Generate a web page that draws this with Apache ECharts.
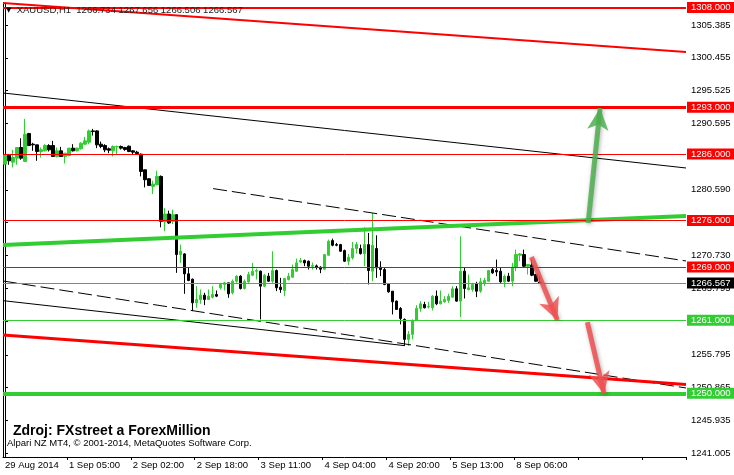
<!DOCTYPE html>
<html><head><meta charset="utf-8">
<script src="https://cdn.jsdelivr.net/npm/echarts@6.0.0/dist/echarts.min.js"></script>
<style>html,body{margin:0;padding:0;background:#fff}#c{width:734px;height:475px}</style>
</head><body><div id="c"></div>
<script>
// ---- candle data (XAUUSD H1) ----
const opens = [1284.46,1285.76,1284.76,1285.36,1286.96,1284.86,1289.06,1287.46,1287.36,1286.36,
1286.46,1287.26,1287.26,1285.61,1286.46,1285.61,1285.76,1286.86,1286.46,1286.76,
1287.46,1287.76,1289.46,1289.46,1287.46,1287.26,1286.76,1286.46,1287.06,1287.11,
1286.96,1287.16,1286.46,1286.26,1285.96,1283.61,1282.26,1281.11,1281.36,1282.61,
1275.76,1276.96,1275.86,1276.86,1270.86,1270.96,1267.96,1267.16,1263.61,1264.11,
1264.76,1264.11,1264.46,1264.86,1265.86,1266.36,1266.61,1265.11,1266.86,1267.61,
1265.76,1266.76,1267.76,1268.36,1268.36,1266.11,1267.61,1266.86,1268.46,1265.96,
1265.46,1267.11,1267.46,1268.36,1269.76,1269.96,1269.86,1269.11,1269.16,1268.96,
1268.66,1270.76,1272.96,1272.36,1272.36,1271.46,1269.86,1270.36,1271.76,1271.76,
1271.01,1272.36,1268.36,1271.76,1268.96,1268.61,1266.46,1265.36,1263.86,1262.76,
1261.11,1258.11,1258.86,1260.96,1262.76,1263.36,1262.96,1262.86,1264.61,1263.46,
1263.76,1263.96,1264.46,1265.71,1263.86,1268.36,1265.61,1265.61,1266.46,1265.36,
1266.61,1266.86,1268.61,1268.46,1268.36,1266.76,1267.61,1266.86,1268.96,1270.76,
1270.86,1269.11,1269.26,1267.86,1266.734];
const closes = [1285.76,1284.96,1285.46,1286.96,1285.36,1288.96,1287.26,1287.36,1286.36,1286.61,
1287.26,1286.61,1285.61,1286.46,1285.61,1286.11,1286.86,1286.46,1286.86,1287.61,
1287.96,1289.46,1289.36,1287.36,1287.11,1286.61,1286.56,1287.11,1287.11,1286.86,
1286.66,1286.36,1286.26,1286.06,1283.36,1282.11,1281.26,1281.46,1282.61,1275.86,
1276.96,1275.61,1276.86,1270.86,1271.36,1267.96,1266.96,1263.61,1264.11,1264.76,
1264.11,1264.61,1264.86,1264.61,1266.36,1266.61,1264.96,1266.86,1267.61,1265.76,
1266.86,1267.86,1268.36,1268.46,1266.11,1267.76,1266.86,1268.46,1265.86,1265.61,
1267.26,1267.61,1268.61,1269.61,1269.96,1269.61,1269.11,1269.21,1268.96,1268.66,
1270.86,1272.86,1272.26,1272.26,1271.36,1269.86,1270.46,1271.76,1272.36,1271.01,
1272.36,1268.46,1272.26,1268.86,1268.61,1266.36,1265.26,1263.76,1262.61,1261.26,
1258.11,1258.86,1260.96,1262.76,1263.46,1262.86,1263.06,1264.61,1263.46,1263.86,
1264.11,1264.56,1265.71,1263.86,1268.36,1265.76,1265.86,1266.36,1265.36,1266.76,
1266.96,1268.46,1268.11,1268.26,1266.76,1267.61,1266.86,1268.96,1270.86,1270.96,
1269.11,1269.36,1267.76,1266.86,1266.567];
const lows = [1284.36,1284.36,1283.96,1284.36,1285.11,1284.86,1287.16,1286.46,1284.96,1285.46,
1286.36,1286.36,1285.56,1285.46,1285.56,1284.56,1285.61,1286.36,1286.36,1286.66,
1287.36,1287.46,1288.76,1286.86,1286.86,1286.26,1286.11,1285.61,1285.96,1286.66,
1286.46,1286.26,1285.86,1285.86,1282.61,1280.96,1281.16,1279.96,1281.26,1274.96,
1274.36,1275.46,1275.46,1268.11,1269.61,1264.96,1266.86,1262.36,1262.86,1263.46,
1263.26,1264.11,1264.26,1264.46,1265.61,1265.46,1264.36,1264.86,1266.61,1265.61,
1265.61,1266.61,1267.61,1267.11,1261.11,1265.96,1266.76,1266.61,1265.36,1265.11,
1264.61,1266.96,1267.36,1268.26,1269.61,1269.11,1268.61,1268.61,1268.61,1268.06,
1268.56,1270.71,1272.11,1272.11,1271.26,1269.76,1269.26,1270.11,1271.01,1270.86,
1269.11,1266.36,1266.86,1267.36,1267.61,1266.26,1265.11,1261.86,1262.56,1260.36,
1257.26,1257.11,1258.11,1260.86,1262.26,1262.76,1262.76,1262.46,1263.26,1263.36,
1263.61,1263.61,1264.36,1263.76,1261.46,1264.26,1265.46,1265.26,1264.46,1265.11,
1266.11,1266.76,1267.96,1267.61,1266.61,1265.96,1266.76,1266.11,1268.36,1269.86,
1268.96,1267.86,1267.61,1266.76,1266.506];
const highs = [1285.86,1285.86,1286.61,1286.96,1288.36,1291.26,1289.16,1287.66,1287.36,1286.96,
1287.46,1287.46,1287.96,1286.96,1287.06,1286.11,1286.86,1287.46,1286.96,1287.76,
1288.56,1289.66,1289.76,1289.56,1287.86,1287.46,1286.96,1287.26,1287.26,1287.26,
1287.06,1287.26,1286.56,1286.46,1286.06,1283.61,1282.36,1281.96,1283.46,1282.76,
1277.86,1277.46,1277.61,1276.86,1272.36,1271.06,1268.96,1267.26,1266.11,1265.61,
1265.11,1265.61,1266.11,1265.46,1266.61,1266.76,1266.61,1267.11,1267.76,1267.76,
1267.11,1268.26,1269.61,1268.76,1268.46,1267.96,1268.11,1271.36,1268.61,1267.36,
1267.36,1268.11,1269.36,1270.26,1270.36,1270.11,1269.96,1269.66,1269.36,1269.11,
1270.96,1273.11,1273.26,1272.61,1272.46,1271.61,1270.96,1272.76,1272.76,1272.36,
1274.96,1274.11,1277.11,1273.76,1269.86,1268.86,1266.56,1265.36,1263.96,1262.96,
1261.26,1259.36,1261.11,1263.26,1263.86,1263.76,1263.76,1264.76,1265.46,1265.46,
1264.61,1264.96,1266.11,1266.11,1273.61,1268.96,1267.86,1266.61,1266.76,1267.36,
1267.36,1268.56,1268.96,1270.11,1268.86,1267.86,1268.11,1269.61,1271.61,1271.11,
1271.61,1269.36,1270.11,1267.96,1267.656];

// ---- axis texts ----
const slotCount = 171;           // bar slots visible on the chart (incl. right shift)
const tickEvery = 16;
const timeLabels = ['29 Aug 2014','1 Sep 05:00','2 Sep 02:00','2 Sep 18:00','3 Sep 11:00','4 Sep 04:00','4 Sep 20:00','5 Sep 13:00','8 Sep 06:00'];
const priceTicks = [1241.005,1245.935,1250.865,1255.795,1260.865,1265.795,1270.730,1275.660,1280.590,1285.660,1290.595,1295.525,1300.455,1305.385];
const priceMin = 1240.42, priceMax = 1308.69;

// ---- horizontal levels ----
const levelValues = [1308, 1293, 1286, 1276, 1269, 1266.567, 1261, 1250];
const levelColors = ['#ff0000','#ff0000','#ff0000','#ff0000','#ff0000','#778899','#32cd32','#32cd32'];
const levelBoxColors = ['#ff0000','#ff0000','#ff0000','#ff0000','#ff0000','#000000','#32cd32','#32cd32'];
const levelWidths = [2, 3, 1, 1, 1, 1, 1, 4];

// ---- trend lines [barIndex, price] ----
const trendRedTop   = [[-0.5, 1308.69], [170.5, 1301.33]];
const trendBlackTop = [[-0.5, 1295.16], [170.5, 1283.88]];
const trendDashUp   = [[52.1, 1280.78], [170.5, 1269.90]];
const trendDashLow  = [[-0.5, 1266.89], [170.5, 1250.80]];
const trendSolidLow = [[-0.5, 1263.93], [100.15, 1257.16]];
const trendRedLow   = [[-0.5, 1258.77], [170.5, 1251.33]];
const trendGreen    = [[-0.5, 1272.30], [170.5, 1276.66]];

// ---- arrows [barIndex, price] tail -> head ----
const arrowGreen = [[146, 1275.6], [149, 1292.9]];
const arrowRed1  = [[131.8, 1270.5], [138.3, 1261.0]];
const arrowRed2  = [[145.8, 1260.7], [150.0, 1249.9]];

const categories = [];
for (let i = 0; i < slotCount; i++) categories.push(i % tickEvery === 0 && timeLabels[i / tickEvery] ? timeLabels[i / tickEvery] : '');

const FONT = 'Liberation Sans';
const candleData = opens.map((o, i) => [o, closes[i], lows[i], highs[i]]);

function trend(data, color, width, type) {
  return { type: 'line', xAxisIndex: 1, yAxisIndex: 0, data: data, symbol: 'none', silent: true, z: 4,
    lineStyle: { color: color, width: width, type: type || 'solid' }, animation: false };
}
function arrow(pts, color) {
  return [{ coord: pts[0], lineStyle: { color: color, width: 5, type: 'solid', opacity: 0.85,
    shadowBlur: 4, shadowColor: 'rgba(0,0,0,0.35)', shadowOffsetX: 1, shadowOffsetY: 1 } }, { coord: pts[1] }];
}

const chart = echarts.init(document.getElementById('c'), null, { renderer: 'canvas' });
chart.setOption({
  animation: false,
  backgroundColor: '#fff',
  textStyle: { fontFamily: FONT },
  title: [
    { text: '{t|▼}  XAUUSD,H1  1266.734 1267.656 1266.506 1266.567', left: 6, top: 5, padding: 0,
      textStyle: { fontSize: 9.5, fontWeight: 'normal', color: '#222', fontFamily: FONT,
        rich: { t: { fontFamily: 'DejaVu Sans', fontSize: 7, color: '#000' } } } },
    { text: 'Zdroj: FXstreet a ForexMillion', left: 13, top: 424, padding: 0,
      textStyle: { fontSize: 14, fontWeight: 'bold', color: '#000', fontFamily: FONT } },
    { text: 'Alpari NZ MT4, © 2001-2014, MetaQuotes Software Corp.', left: 7, top: 438, padding: 0,
      textStyle: { fontSize: 9.5, fontWeight: 'normal', color: '#000', fontFamily: FONT } }
  ],
  grid: { left: 3, right: 48, top: 3, bottom: 18, containLabel: false },
  xAxis: [
    { type: 'category', data: categories, boundaryGap: true,
      axisLine: { lineStyle: { color: '#000', width: 1 } },
      axisTick: { show: true, length: 3, lineStyle: { color: '#000' }, interval: (i) => i % tickEvery === 0 && i > 0 },
      axisLabel: { interval: 0, align: 'left', margin: 3, fontSize: 9.5, color: '#000', fontFamily: FONT },
      splitLine: { show: false } },
    { type: 'value', min: -0.5, max: slotCount - 0.5, show: false, position: 'top' }
  ],
  yAxis: [
    { type: 'value', position: 'right', min: priceMin, max: priceMax, scale: true,
      axisLine: { show: true, lineStyle: { color: '#000' } },
      axisTick: { show: true, length: 3, lineStyle: { color: '#000' }, customValues: priceTicks },
      axisLabel: { customValues: priceTicks, formatter: (v) => v.toFixed(3), margin: 5, fontSize: 9.5, color: '#000', fontFamily: FONT },
      splitLine: { show: false } },
    { type: 'value', position: 'left', min: priceMin, max: priceMax,
      axisLine: { show: true, lineStyle: { color: '#000' } },
      axisTick: { show: false }, axisLabel: { show: false }, splitLine: { show: false } }
  ],
  series: [
    { type: 'candlestick', data: candleData, barWidth: 3, z: 2,
      itemStyle: { color: '#32cd32', color0: '#000', borderColor: '#32cd32', borderColor0: '#000', borderWidth: 1 },
      markLine: { silent: true, symbol: 'none', z: 5, animation: false,
        data: levelValues.map((v, i) => ({ yAxis: v,
          lineStyle: { color: levelColors[i], width: levelWidths[i], type: 'solid' },
          label: { show: true, position: 'end', distance: 1, formatter: () => v.toFixed(3), color: '#fff',
            backgroundColor: levelBoxColors[i], padding: [1, 5, 0, 4], fontSize: 9.5, lineHeight: 10, fontFamily: FONT } })) } },
    trend(trendRedTop, '#ff0000', 2),
    trend(trendBlackTop, '#000', 1),
    trend(trendDashUp, '#000', 1, [14, 5]),
    trend(trendDashLow, '#000', 1, [14, 5]),
    trend(trendSolidLow, '#000', 1),
    trend(trendRedLow, '#ff0000', 3),
    trend(trendGreen, '#32cd32', 4),
    { type: 'line', xAxisIndex: 1, yAxisIndex: 0, data: [], symbol: 'none', z: 6,
      markLine: { silent: true, symbol: ['none', 'arrow'], symbolSize: [16, 22], animation: false, label: { show: false },
        lineStyle: { type: 'solid' },
        data: [arrow(arrowGreen, '#4caf50'), arrow(arrowRed1, '#f05050'), arrow(arrowRed2, '#f05050')] } }
  ]
});
</script>
</body></html>
